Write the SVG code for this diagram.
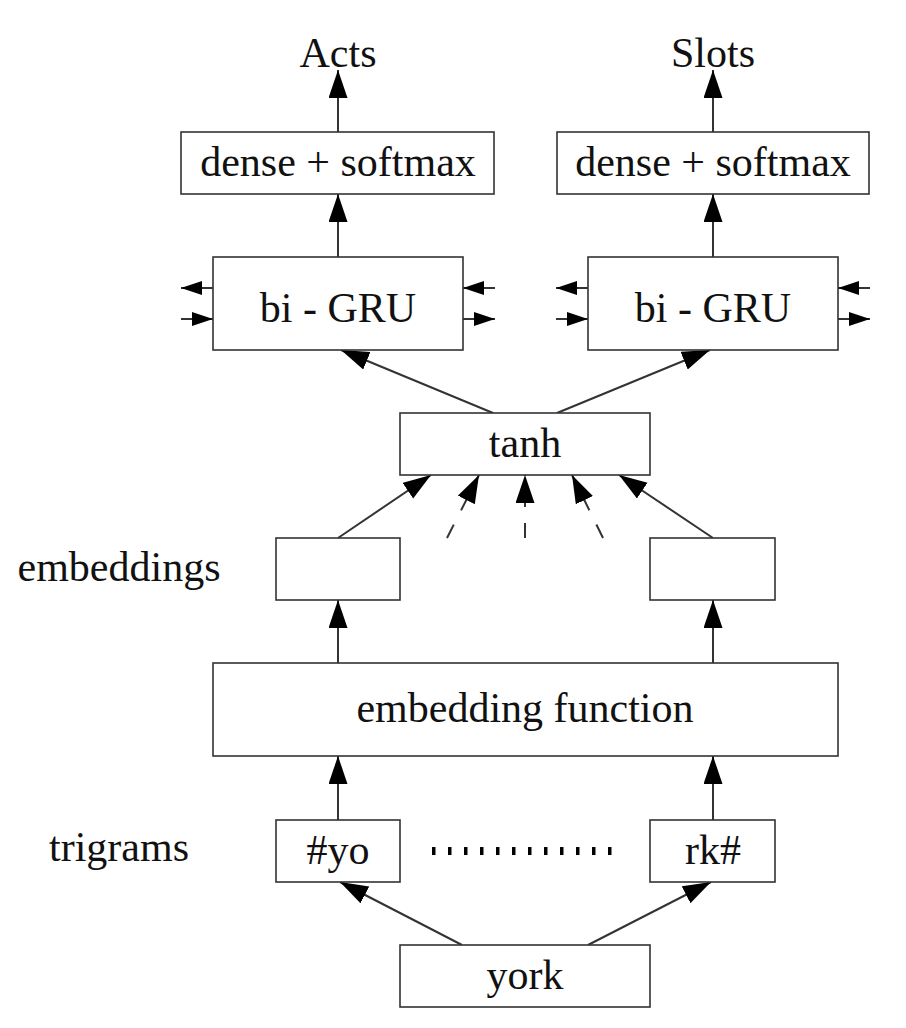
<svg xmlns="http://www.w3.org/2000/svg" width="906" height="1028" viewBox="0 0 906 1028">
<style>
.box{fill:#fff;stroke:#333;stroke-width:1.6}
.t{font-family:'Liberation Serif','Times New Roman',serif;font-size:42px;fill:#111;text-anchor:middle}
.c{stroke:#333;stroke-width:2;fill:none;marker-end:url(#ah)}
.s{stroke:#333;stroke-width:2;fill:none;marker-end:url(#sh)}
.d{stroke:#333;stroke-width:2;fill:none;stroke-dasharray:15 16;marker-end:url(#ah)}
</style>
<defs>
<marker id="ah" markerUnits="userSpaceOnUse" markerWidth="29" markerHeight="20" refX="28" refY="9.5" orient="auto" viewBox="0 0 29 20"><path d="M0,0 L28,9.5 L0,19 z" fill="#000"/></marker>
<marker id="sh" markerUnits="userSpaceOnUse" markerWidth="22" markerHeight="16" refX="21" refY="7" orient="auto" viewBox="0 0 22 16"><path d="M0,0 L21,7 L0,14 z" fill="#000"/></marker>
</defs>
<rect width="906" height="1028" fill="#fff"/>
<g id="connectors">
<line class="c" x1="338" y1="132" x2="338" y2="70"/>
<line class="c" x1="713" y1="132" x2="713" y2="70"/>
<line class="c" x1="338" y1="257" x2="338" y2="194"/>
<line class="c" x1="713" y1="257" x2="713" y2="194"/>
<line class="c" x1="493" y1="413" x2="341" y2="350"/>
<line class="c" x1="557" y1="413" x2="710" y2="350"/>
<line class="c" x1="338" y1="538" x2="431" y2="475"/>
<line class="d" x1="447" y1="538" x2="479" y2="475"/>
<line class="d" x1="525" y1="538" x2="525" y2="475"/>
<line class="d" x1="603" y1="538" x2="572" y2="475"/>
<line class="c" x1="713" y1="538" x2="619" y2="475"/>
<line class="c" x1="338" y1="663" x2="338" y2="600"/>
<line class="c" x1="713" y1="663" x2="713" y2="600"/>
<line class="c" x1="338" y1="820" x2="338" y2="756"/>
<line class="c" x1="713" y1="820" x2="713" y2="756"/>
<line class="c" x1="462" y1="945" x2="340" y2="882"/>
<line class="c" x1="588" y1="945" x2="711" y2="882"/>
<line class="s" x1="213" y1="288" x2="181" y2="288"/>
<line class="s" x1="181" y1="319" x2="213" y2="319"/>
<line class="s" x1="495" y1="288" x2="463" y2="288"/>
<line class="s" x1="463" y1="319" x2="495" y2="319"/>
<line class="s" x1="588" y1="288" x2="556" y2="288"/>
<line class="s" x1="556" y1="319" x2="588" y2="319"/>
<line class="s" x1="870" y1="288" x2="838" y2="288"/>
<line class="s" x1="838" y1="319" x2="870" y2="319"/>
<line x1="432" y1="851" x2="612" y2="851" stroke="#000" stroke-width="8" stroke-dasharray="3.5 12.5"/>
</g>
<g id="acts"><text class="t" x="338" y="67">Acts</text></g>
<g id="slots"><text class="t" x="713" y="67">Slots</text></g>
<g id="dense1"><rect class="box" x="181" y="132" width="313" height="62"/><text class="t" x="338" y="176">dense + softmax</text></g>
<g id="dense2"><rect class="box" x="557" y="132" width="312" height="62"/><text class="t" x="713" y="176">dense + softmax</text></g>
<g id="gru1"><rect class="box" x="213" y="257" width="250" height="93"/><text class="t" x="338" y="322">bi - GRU</text></g>
<g id="gru2"><rect class="box" x="588" y="257" width="250" height="93"/><text class="t" x="713" y="322">bi - GRU</text></g>
<g id="tanh"><rect class="box" x="400" y="413" width="250" height="62"/><text class="t" x="525" y="457">tanh</text></g>
<g id="emb-label"><text class="t" x="119" y="581">embeddings</text></g>
<g id="emb1"><rect class="box" x="276" y="538" width="124" height="62"/></g>
<g id="emb2"><rect class="box" x="650" y="538" width="125" height="62"/></g>
<g id="embfunc"><rect class="box" x="213" y="663" width="625" height="93"/><text class="t" x="525" y="722">embedding function</text></g>
<g id="tri-label"><text class="t" x="119" y="861">trigrams</text></g>
<g id="tri1"><rect class="box" x="276" y="820" width="124" height="62"/><text class="t" x="338" y="864">#yo</text></g>
<g id="tri2"><rect class="box" x="650" y="820" width="125" height="62"/><text class="t" x="713" y="864">rk#</text></g>
<g id="york"><rect class="box" x="400" y="945" width="250" height="62"/><text class="t" x="525" y="989">york</text></g>
</svg>
